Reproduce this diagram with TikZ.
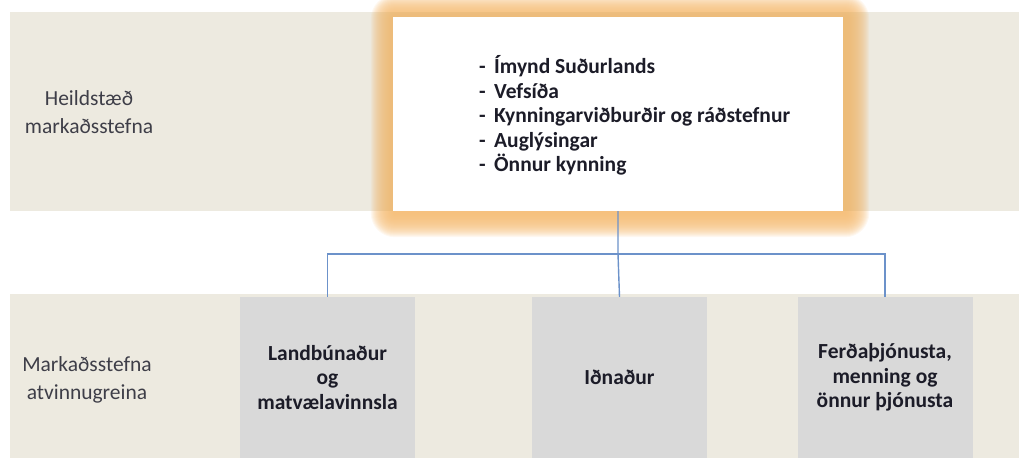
\documentclass[tikz,border=0pt]{standalone}
\usepackage{fontspec}
\setmainfont{Carlito}
\usetikzlibrary{calc}
\definecolor{band}{HTML}{EDEAE0}
\definecolor{boxgray}{HTML}{D9D9D9}
\definecolor{conn}{HTML}{6C92CA}
\definecolor{glowc}{HTML}{F5BC74}
\definecolor{txt}{HTML}{1C1C28}
\tikzset{
  bandbox/.style={fill=band, draw=none},
  sectorbox/.style={fill=boxgray, draw=none, minimum width=175pt, minimum height=161pt,
     inner sep=0pt, align=center, text=txt, font=\fontsize{21.5}{24.5}\selectfont\bfseries},
  rowlabel/.style={align=center, text=txt!85!white, font=\fontsize{21.5}{28}\selectfont, inner sep=0pt},
  listtext/.style={align=left, anchor=west, text=txt, font=\fontsize{21.5}{24.5}\selectfont\bfseries, inner sep=0pt},
  connector/.style={draw=conn, line width=1.4pt},
  whitebox/.style={fill=white, draw=none, minimum width=450pt, minimum height=194pt, inner sep=0pt}
}
\begin{document}
\begin{tikzpicture}[x=1pt, y=-1pt]
\useasboundingbox (0,0) rectangle (1019,458);
% bands
\fill[bandbox] (10,12) rectangle (1019,211);
\fill[bandbox] (10,294) rectangle (1019,458);
% top box with soft glow
\node[whitebox] (top) at (618,114) {};
\foreach \d in {1,...,24} {
  \fill[glowc, opacity=0.1, rounded corners=\d pt]
    ($(top.south west)+(-\d+2,\d+2)$) rectangle ($(top.north east)+(\d+2,-\d+2)$);
}
\node[whitebox] (topbox) at (618,114) {};
\node[listtext] (list) at (479,115.5) {%
  \makebox[15pt][l]{-}Ímynd Suðurlands\\
  \makebox[15pt][l]{-}Vefsíða\\
  \makebox[15pt][l]{-}Kynningarviðburðir og ráðstefnur\\
  \makebox[15pt][l]{-}Auglýsingar\\
  \makebox[15pt][l]{-}Önnur kynning};
% row labels
\node[rowlabel] (lab1) at (89,112) {Heildstæð\\markaðsstefna};
\node[rowlabel] (lab2) at (87,380) {Markaðsstefna\\atvinnugreina};
% sector boxes
\node[sectorbox] (land) at (327.5,377.5) {Landbúnaður\\og\\matvælavinnsla};
\node[sectorbox] (idn) at (619.5,377.5) {Iðnaður};
\node[sectorbox] (ferd) at (885,377.5) {Ferðaþjónusta,\\menning og\\önnur þjónusta};
% connectors
\coordinate (split) at (topbox.south |- 0,254);
\draw[connector] (topbox.south) -- (split) -- (idn.north);
\draw[connector] (split) -| (land.north);
\draw[connector] (split) -| (ferd.north);
\end{tikzpicture}
\end{document}
